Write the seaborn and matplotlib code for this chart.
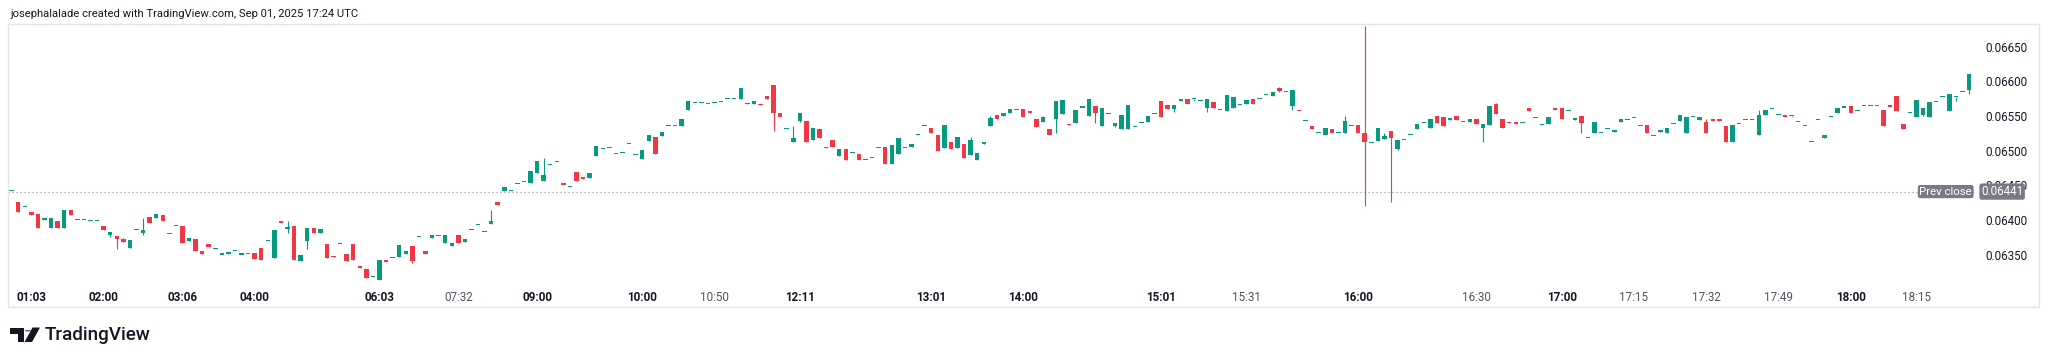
import matplotlib.pyplot as plt
import matplotlib.transforms as mtransforms
import numpy as np
import seaborn as sns
from matplotlib.patches import Circle, Polygon, Rectangle

# prices in units of 0.00001, one value per bar, left to right
open_pips = [
    6442, 6426, 6419, 6412, 6409, 6400, 6389, 6398, 6389, 6415,
    6401, 6401, 6400, 6399, 6391, 6378, 6377, 6372, 6359, 6387,
    6381, 6404, 6403, 6407, 6380, 6392, 6392, 6370, 6373, 6355,
    6365, 6359, 6351, 6351, 6356, 6351, 6352, 6352, 6359, 6370,
    6345, 6399, 6387, 6391, 6341, 6370, 6388, 6381, 6365, 6348,
    6366, 6351, 6366, 6334, 6330, 6319, 6314, 6343, 6346, 6347,
    6351, 6362, 6376, 6355, 6374, 6377, 6367, 6362, 6379, 6368,
    6386, 6394, 6383, 6394, 6426, 6442, 6443, 6452, 6456, 6454,
    6468, 6456, 6480, 6485, 6453, 6448, 6469, 6462, 6460, 6492,
    6503, 6504, 6497, 6498, 6511, 6495, 6488, 6514, 6520, 6521,
    6536, 6536, 6536, 6559, 6570, 6570, 6568, 6570, 6571, 6575,
    6575, 6575, 6567, 6568, 6567, 6579, 6595, 6555, 6532, 6513,
    6543, 6543, 6516, 6531, 6505, 6516, 6493, 6502, 6497, 6495,
    6487, 6490, 6504, 6505, 6481, 6495, 6505, 6505, 6523, 6537,
    6532, 6522, 6504, 6512, 6504, 6510, 6494, 6487, 6510, 6535,
    6551, 6550, 6554, 6560, 6560, 6557, 6545, 6542, 6531, 6545,
    6553, 6538, 6540, 6563, 6550, 6565, 6535, 6553, 6536, 6531,
    6531, 6535, 6540, 6541, 6553, 6572, 6566, 6560, 6572, 6575,
    6575, 6573, 6561, 6570, 6560, 6557, 6561, 6567, 6568, 6575,
    6575, 6581, 6579, 6590, 6586, 6564, 6559, 6544, 6536, 6526,
    6522, 6531, 6526, 6526, 6537, 6537, 6526, 6512, 6514, 6517,
    6528, 6503, 6516, 6523, 6531, 6541, 6532, 6550, 6548, 6544,
    6550, 6542, 6542, 6546, 6532, 6537, 6568, 6545, 6541, 6541,
    6541, 6562, 6548, 6538, 6538, 6561, 6562, 6558, 6544, 6550,
    6519, 6526, 6526, 6532, 6527, 6541, 6545, 6548, 6536, 6537,
    6522, 6527, 6525, 6539, 6543, 6526, 6549, 6544, 6541, 6545,
    6546, 6536, 6512, 6539, 6545, 6545, 6522, 6552, 6561, 6552,
    6552, 6552, 6542, 6537, 6513, 6545, 6518, 6549, 6554, 6563,
    6564, 6558, 6565, 6565, 6565, 6558, 6566, 6579, 6539, 6555,
    6549, 6552, 6549, 6571, 6578, 6557, 6578, 6585, 6588,
]
close_pips = [
    6442, 6412, 6419, 6407, 6388, 6403, 6403, 6388, 6415, 6407,
    6401, 6401, 6400, 6399, 6385, 6383, 6372, 6368, 6371, 6387,
    6386, 6395, 6409, 6398, 6380, 6392, 6367, 6374, 6356, 6351,
    6361, 6359, 6351, 6354, 6356, 6351, 6352, 6344, 6343, 6370,
    6385, 6396, 6390, 6342, 6350, 6389, 6382, 6387, 6345, 6347,
    6366, 6341, 6342, 6331, 6317, 6319, 6342, 6340, 6346, 6364,
    6355, 6341, 6376, 6351, 6379, 6377, 6378, 6367, 6367, 6372,
    6386, 6394, 6383, 6399, 6421, 6448, 6443, 6452, 6456, 6470,
    6485, 6465, 6480, 6485, 6451, 6448, 6456, 6459, 6468, 6507,
    6503, 6504, 6496, 6498, 6511, 6495, 6501, 6522, 6495, 6527,
    6536, 6536, 6546, 6571, 6570, 6570, 6568, 6570, 6571, 6575,
    6575, 6591, 6569, 6572, 6566, 6575, 6555, 6548, 6532, 6519,
    6554, 6513, 6533, 6518, 6504, 6505, 6502, 6486, 6497, 6487,
    6487, 6490, 6504, 6481, 6508, 6518, 6505, 6509, 6523, 6537,
    6526, 6500, 6537, 6503, 6520, 6490, 6515, 6496, 6512, 6547,
    6546, 6554, 6560, 6560, 6548, 6554, 6534, 6548, 6523, 6572,
    6573, 6537, 6559, 6563, 6574, 6555, 6562, 6553, 6540, 6552,
    6566, 6535, 6540, 6550, 6553, 6549, 6560, 6566, 6575, 6568,
    6575, 6573, 6574, 6562, 6560, 6581, 6578, 6567, 6573, 6567,
    6575, 6581, 6584, 6586, 6586, 6588, 6558, 6544, 6531, 6526,
    6533, 6526, 6526, 6543, 6537, 6526, 6512, 6512, 6532, 6521,
    6519, 6516, 6516, 6523, 6539, 6541, 6546, 6540, 6535, 6547,
    6544, 6541, 6545, 6539, 6538, 6565, 6553, 6532, 6540, 6538,
    6541, 6557, 6548, 6538, 6549, 6558, 6546, 6558, 6547, 6540,
    6519, 6541, 6526, 6532, 6530, 6545, 6545, 6548, 6536, 6525,
    6522, 6530, 6532, 6539, 6552, 6549, 6549, 6548, 6526, 6543,
    6543, 6512, 6537, 6539, 6545, 6545, 6552, 6559, 6561, 6552,
    6548, 6550, 6542, 6537, 6513, 6545, 6523, 6549, 6562, 6563,
    6554, 6558, 6565, 6565, 6565, 6536, 6563, 6557, 6531, 6555,
    6573, 6562, 6570, 6571, 6578, 6582, 6578, 6585, 6611,
]
# wicks that stick out past the body: bar index -> price (0.00001 units)
wick_high = {17: 6374, 20: 6403, 42: 6398, 73: 6415, 81: 6490, 119: 6536,
             146: 6520, 149: 6550, 157: 6550, 193: 6592, 203: 6550,
             206: 6680, 209: 6525, 226: 6569, 258: 6545, 266: 6558}
wick_low = {15: 6376, 16: 6358, 20: 6379, 42: 6381, 45: 6358, 61: 6338,
            116: 6529, 120: 6541, 159: 6525, 165: 6540, 168: 6534,
            177: 6556, 180: 6571, 182: 6556, 193: 6584, 195: 6559,
            206: 6420, 210: 6426, 211: 6501, 224: 6513, 239: 6525,
            291: 6550, 296: 6572, 298: 6582}

prev_close = 0.06441
price_ticks = [0.06350, 0.06400, 0.06450, 0.06500, 0.06550, 0.06600, 0.06650]
time_labels = ['01:03', '02:00', '03:06', '04:00', '06:03', '07:32', '09:00',
               '10:00', '10:50', '12:11', '13:01', '14:00', '15:01', '15:31',
               '16:00', '16:30', '17:00', '17:15', '17:32', '17:49', '18:00',
               '18:15']
time_bars = [3, 14, 26, 37, 56, 68, 80, 96, 107, 120, 140, 154, 175, 188,
             205, 223, 236, 247, 258, 269, 280, 290]
time_bold = [True, True, True, True, True, False, True, True, False, True,
             True, True, True, False, True, False, True, False, False, False,
             True, False]

UP = '#089981'
DOWN = '#F23645'
TEXT = '#131722'
W, H = 2048, 362

sns.set_theme(style='white')
plt.rcParams['font.family'] = ['Roboto', 'DejaVu Sans']

o = np.array(open_pips) / 1e5
c = np.array(close_pips) / 1e5
hi = np.maximum(o, c)
lo = np.minimum(o, c)
for k, v in wick_high.items():
    hi[k] = v / 1e5
for k, v in wick_low.items():
    lo[k] = v / 1e5
x = np.arange(len(o))
colors = np.where(c >= o, UP, DOWN)

# flat bars still get a thin 1px dash
min_h = 1.5e-5
body_h = np.abs(c - o)
body_bot = np.where(body_h < min_h, (o + c) / 2 - min_h / 2, np.minimum(o, c))
body_h = np.maximum(body_h, min_h)


def fx(px):
    return px / W


def fy(py):
    return 1 - py / H


fig = plt.figure(figsize=(W / 100, H / 100), dpi=100)
fig.patch.set_facecolor('white')
ax = fig.add_axes([fx(8), fy(285), fx(1976) - fx(8), fy(24) - fy(285)])
ax.set_facecolor('white')

ax.axhline(prev_close, color='#9598a1', lw=0.9, ls=(0, (1, 2.2)), zorder=1)
ax.vlines(x, lo, hi, colors=colors, lw=0.8, zorder=2)
ax.bar(x, body_h, bottom=body_bot, width=0.68, color=colors, linewidth=0, zorder=3)

ax.set_xlim(-0.56, 299.07)
ax.set_ylim(0.063063, 0.066827)
sns.despine(ax=ax, left=True, bottom=True, right=True, top=True)

ax.yaxis.tick_right()
ax.set_yticks(price_ticks)
ax.set_yticklabels([f'{v:.5f}' for v in price_ticks])
ax.tick_params(axis='y', length=0, pad=7, labelsize=8.4, labelcolor=TEXT)
ax.set_xticks(time_bars)
ax.set_xticklabels(time_labels)
ax.tick_params(axis='x', length=0, pad=4, labelsize=8.4, labelcolor=TEXT)
for lab, bold in zip(ax.get_xticklabels(), time_bold):
    lab.set_fontweight('bold' if bold else 'normal')
    if not bold:
        lab.set_color('#50535e')
ax.grid(False)

# prev close tag on the price scale
tr = mtransforms.blended_transform_factory(fig.transFigure, ax.transData)
box = dict(boxstyle='round,pad=0.14,rounding_size=0.2', fc='#787b86', ec='none')
ax.text(fx(1972), prev_close, 'Prev close', transform=tr, ha='right', va='center',
        color='white', fontsize=8.2, clip_on=False, zorder=5, bbox=box)
ax.text(fx(1981), prev_close, f'{prev_close:.5f}', transform=tr, ha='left', va='center',
        color='white', fontsize=8.4, clip_on=False, zorder=5, bbox=box)

# outer frame of the chart
fig.add_artist(Rectangle((fx(7.5), fy(307)), fx(2039) - fx(7.5), fy(23.5) - fy(307),
                         transform=fig.transFigure, fill=False, ec='#e3e5ea', lw=1))

fig.text(fx(10), fy(14), 'josephalalade created with TradingView.com, Sep 01, 2025 17:24 UTC',
         ha='left', va='center', fontsize=8.1, color=TEXT)


def poly(pts):
    return Polygon([(fx(a), fy(b)) for a, b in pts], closed=True,
                   transform=fig.transFigure, fc=TEXT, ec='none')


fig.add_artist(poly([(10, 327.5), (23.5, 327.5), (23.5, 342), (17.5, 342), (17.5, 333.5), (10, 333.5)]))
fig.add_artist(Circle((fx(27.8), fy(330.8)), 3.0 / W, transform=fig.transFigure, fc=TEXT, ec='none'))
fig.add_artist(poly([(32.5, 327.5), (40, 327.5), (32, 342), (24.5, 342)]))
fig.text(fx(45), fy(335), 'TradingView', ha='left', va='center', fontsize=13.6,
         fontweight='medium', color=TEXT)

fig.savefig('out.png', dpi=100, facecolor='white')
